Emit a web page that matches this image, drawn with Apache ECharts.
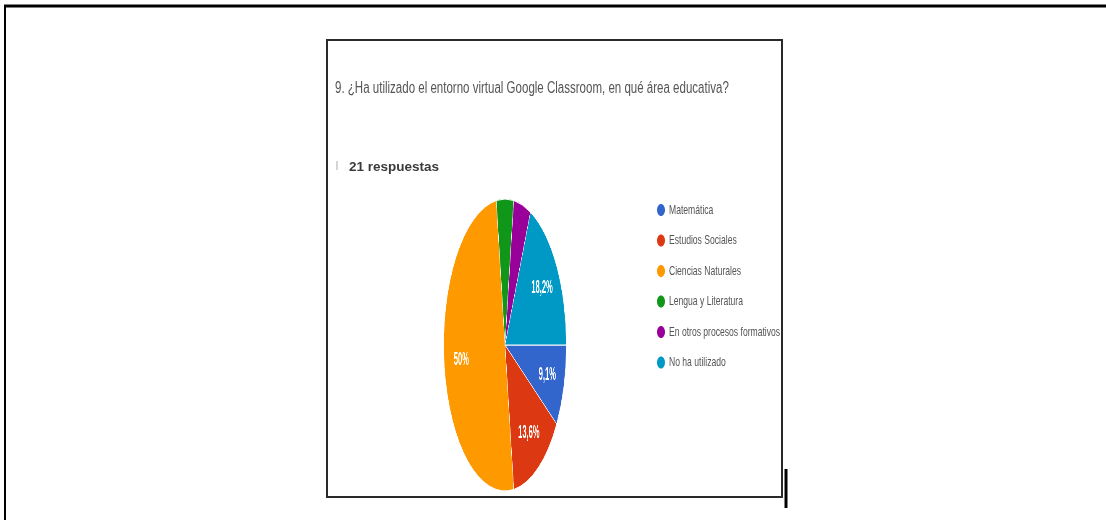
<!DOCTYPE html>
<html>
<head>
<meta charset="utf-8">
<script src="https://cdn.jsdelivr.net/npm/echarts@6/dist/echarts.min.js"></script>
<style>
  html, body { margin: 0; padding: 0; background: #fff; }
  #main { position: absolute; left: 0; top: 0; width: 1106px; height: 520px; }
  #pie { position: absolute; left: 355px; top: 195px; width: 300px; height: 300px;
         transform: scaleX(0.42); transform-origin: 50% 50%; }
</style>
</head>
<body>
<div id="main"></div>
<div id="pie"></div>
<script>
// ---- data ----
const questionTitle = '9. ¿Ha utilizado el entorno virtual Google Classroom, en qué área educativa?';
const responsesText = '21 respuestas';
const categories = ['Matemática', 'Estudios Sociales', 'Ciencias Naturales', 'Lengua y Literatura', 'En otros procesos formativos', 'No ha utilizado'];
const counts = [2, 3, 11, 1, 1, 4];
const colors = ['#3366cc', '#dc3912', '#ff9900', '#109618', '#990099', '#0099c6'];

const total = counts.reduce((a, b) => a + b, 0);
function pctText(v) {
  const p = Math.round(v / total * 1000) / 10;
  return (Number.isInteger(p) ? String(p) : p.toFixed(1).replace('.', ',')) + '%';
}

// ---- background / text chart ----
const main = echarts.init(document.getElementById('main'));
const graphics = [
  { type: 'line', shape: { x1: 4, y1: 6, x2: 1106, y2: 6 }, style: { stroke: '#000', lineWidth: 3 } },
  { type: 'line', shape: { x1: 5, y1: 5, x2: 5, y2: 520 }, style: { stroke: '#000', lineWidth: 2 } },
  { type: 'rect', shape: { x: 327, y: 40, width: 455, height: 457 }, style: { fill: '#fff', stroke: '#2a2a2a', lineWidth: 2 } },
  { type: 'line', shape: { x1: 786, y1: 469, x2: 786, y2: 508 }, style: { stroke: '#000', lineWidth: 3 } },
  { type: 'text', x: 335, y: 89, scaleX: 0.72,
    style: { text: questionTitle, fontFamily: 'Liberation Sans, Arial, sans-serif', fontSize: 16, fill: '#555', verticalAlign: 'middle' } },
  { type: 'line', shape: { x1: 337, y1: 161, x2: 337, y2: 170 }, style: { stroke: '#aaa', lineWidth: 1 } },
  { type: 'text', x: 349, y: 167,
    style: { text: responsesText, fontFamily: 'Liberation Sans, Arial, sans-serif', fontWeight: 'bold', fontSize: 13.5, fill: '#3a3a3a', verticalAlign: 'middle' } }
];
categories.forEach((c, i) => {
  const cy = 210 + 30.5 * i;
  graphics.push({ type: 'ellipse', shape: { cx: 661, cy: cy, rx: 4, ry: 6 }, style: { fill: colors[i] } });
  graphics.push({ type: 'text', x: 669, y: cy, scaleX: 0.66,
    style: { text: c, fontFamily: 'Liberation Sans, Arial, sans-serif', fontSize: 13, fill: '#555', verticalAlign: 'middle' } });
});
main.setOption({ animation: false, graphic: graphics });

// ---- pie chart (horizontally squeezed via CSS like the reference) ----
const pie = echarts.init(document.getElementById('pie'));
const pieData = categories.map((c, i) => ({ name: c, value: counts[i], itemStyle: { color: colors[i] } }));
const labelData = categories.map((c, i) => ({
  name: c, value: counts[i],
  label: { show: counts[i] / total >= 0.05 }
}));
pie.setOption({
  animation: false,
  series: [
    {
      type: 'pie', radius: 146, center: ['50%', '50%'], startAngle: 0, clockwise: true,
      silent: true, label: { show: false }, labelLine: { show: false },
      itemStyle: { borderColor: '#fff', borderWidth: 1 },
      data: pieData
    },
    {
      type: 'pie', radius: [58, 146], center: ['50%', '50%'], startAngle: 0, clockwise: true,
      silent: true, itemStyle: { color: 'rgba(0,0,0,0)', borderWidth: 0 }, labelLine: { show: false },
      label: { position: 'inside', color: '#fff', fontWeight: 'bold', fontSize: 18,
               fontFamily: 'Liberation Sans, Arial, sans-serif',
               formatter: p => pctText(p.value) },
      data: labelData
    }
  ]
});
</script>
</body>
</html>
